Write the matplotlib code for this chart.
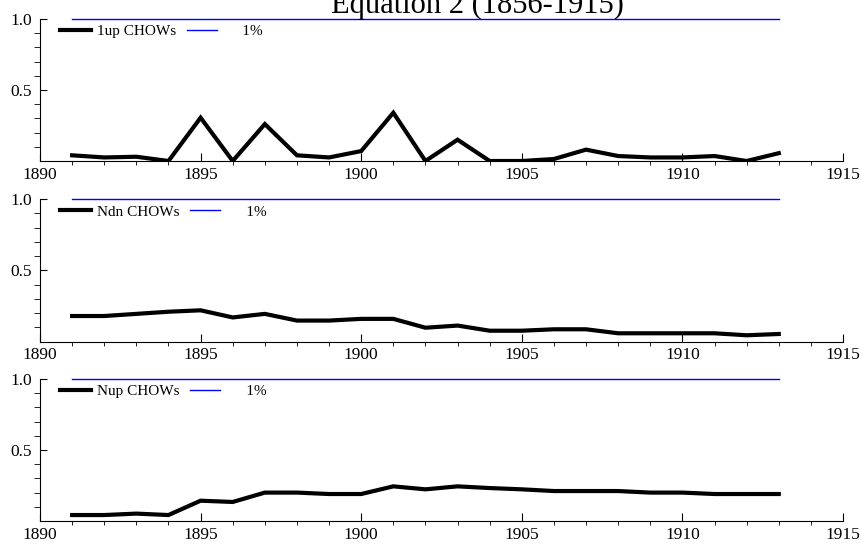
import numpy as np
import matplotlib.pyplot as plt
from matplotlib.ticker import MultipleLocator, FixedLocator

plt.rcParams['font.family'] = ['Liberation Serif', 'DejaVu Serif']

years = list(range(1891, 1914))

up1 = [0.04, 0.025, 0.03, 0.0, 0.305, 0.0, 0.26, 0.04, 0.025, 0.07, 0.34, 0.0,
       0.15, 0.0, 0.0, 0.014, 0.08, 0.035, 0.025, 0.025, 0.035, 0.0, 0.055]
ndn = [0.18, 0.18, 0.195, 0.21, 0.22, 0.17, 0.195, 0.148, 0.148, 0.16, 0.16, 0.098,
       0.113, 0.077, 0.077, 0.087, 0.087, 0.059, 0.059, 0.059, 0.059, 0.045, 0.054]
nup = [0.042, 0.042, 0.052, 0.042, 0.143, 0.134, 0.2, 0.2, 0.19, 0.19, 0.244, 0.223,
       0.244, 0.232, 0.223, 0.211, 0.211, 0.211, 0.2, 0.2, 0.19, 0.19, 0.19]
crit = [1.0] * len(years)

series = [("1up CHOWs", up1), ("Ndn CHOWs", ndn), ("Nup CHOWs", nup)]
title = "Equation 2 (1856-1915)"

W, H = 861, 544
fig = plt.figure(figsize=(W / 100, H / 100), dpi=100)

# axes boxes in pixels: (bottom, top)
rows = [(161, 19), (341.7, 199), (521, 379)]
left, right = 40, 843

for (name, vals), (bot, top) in zip(series, rows):
    ax = fig.add_axes([left / W, 1 - bot / H, (right - left) / W, (bot - top) / H])
    ax.plot(years, vals, color='black', lw=3, label=name, solid_joinstyle='miter')
    ax.plot(years, crit, color='blue', lw=1, label="     1%", clip_on=False)
    ax.set_xlim(1890, 1915)
    ax.set_ylim(0, 1.0)
    ax.xaxis.set_major_locator(MultipleLocator(5))
    ax.xaxis.set_minor_locator(MultipleLocator(1))
    ax.yaxis.set_major_locator(FixedLocator([0.5, 1.0]))
    ax.yaxis.set_minor_locator(FixedLocator([0.1, 0.2, 0.3, 0.4, 0.6, 0.7, 0.8, 0.9]))
    ax.yaxis.set_major_formatter(plt.FuncFormatter(lambda v, p: f"{v:.1f}"))
    ax.tick_params(direction='in', labelsize=12.5, width=0.8)
    ax.tick_params(axis='x', which='major', length=6, pad=4)
    ax.tick_params(axis='x', which='minor', length=3)
    ax.tick_params(axis='y', which='major', length=5, pad=6)
    ax.tick_params(axis='y', which='minor', length=4)
    for s in ['top', 'right']:
        ax.spines[s].set_visible(False)
    for s in ['left', 'bottom']:
        ax.spines[s].set_linewidth(0.8)
    ax.legend(loc='center left', bbox_to_anchor=(0.025, 0.911), ncol=2,
              frameon=False, fontsize=11, borderpad=0, borderaxespad=0,
              handlelength=2.0, handletextpad=0.4, columnspacing=0.7)

fig.text(477.5 / W, 1 - 12.7 / H, title, ha='center', va='baseline', fontsize=22)

fig.savefig("out.png", dpi=100)
